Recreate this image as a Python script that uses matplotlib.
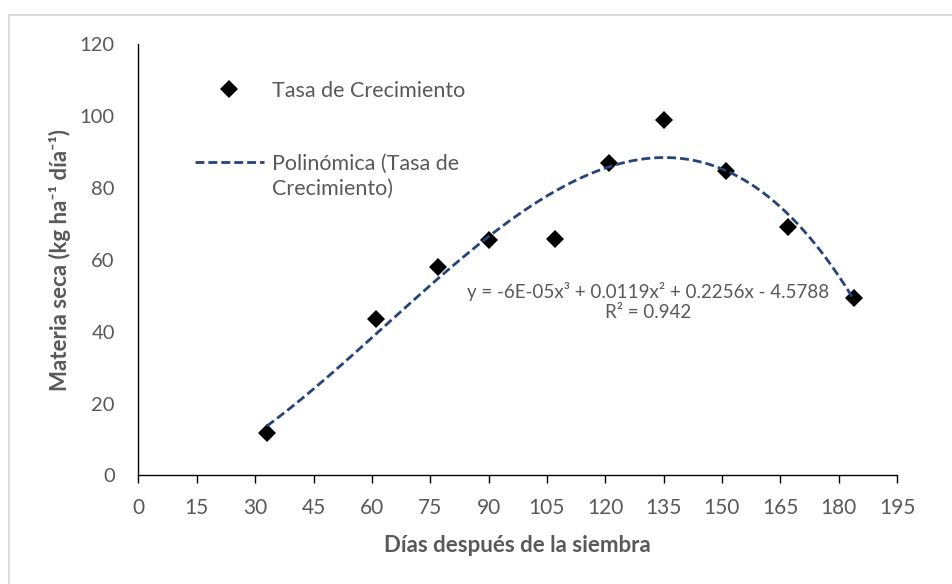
import numpy as np
import matplotlib
matplotlib.use("Agg")
import matplotlib.pyplot as plt
from matplotlib.patches import Rectangle

plt.rcParams["font.family"] = ["Lato", "DejaVu Sans"]

TEXT_GRAY = "#595959"
TREND_BLUE = "#264478"

# days after sowing and growth rate of dry matter
dias = [33, 61, 77, 90, 107, 121, 135, 151, 167, 184]
tasa = [11.8, 43.6, 57.9, 65.6, 65.8, 87.0, 98.8, 84.7, 69.2, 49.3]

x_ticks = list(range(0, 196, 15))
y_ticks = list(range(0, 121, 20))

ecuacion = "y = -6E-05x³ + 0.0119x² + 0.2256x - 4.5788\nR² = 0.942"

# third-order polynomial trendline, least squares like the spreadsheet one
coef = np.polyfit(dias, tasa, 3)
xs = np.linspace(min(dias), max(dias), 300)
ys = np.polyval(coef, xs)

fig = plt.figure(figsize=(9.53, 5.84), dpi=100)
ax = fig.add_axes([0.1453, 0.1858, 0.7959, 0.7389])

(pts,) = ax.plot(dias, tasa, "D", color="black", ms=8.7, mew=0,
                 label="Tasa de Crecimiento", zorder=3)
(trend,) = ax.plot(xs, ys, color=TREND_BLUE, lw=2, dashes=(3.2, 1.45),
                   label="Polinómica (Tasa de\nCrecimiento)", zorder=4)

ax.set_xlim(0, 195)
ax.set_ylim(0, 120)
ax.set_xticks(x_ticks)
ax.set_yticks(y_ticks)

for side in ("top", "right"):
    ax.spines[side].set_visible(False)
for side in ("left", "bottom"):
    ax.spines[side].set_color("black")
    ax.spines[side].set_linewidth(1.0)

ax.tick_params(axis="x", length=6, width=1, direction="out", pad=10,
               labelsize=15, labelcolor=TEXT_GRAY)
ax.tick_params(axis="y", length=0, pad=17, labelsize=14.5, labelcolor=TEXT_GRAY)

ax.set_xlabel("Días después de la siembra", fontsize=16, fontweight="bold",
              color=TEXT_GRAY)
ax.xaxis.set_label_coords(0.5, -0.138)
ax.set_ylabel("Materia seca (kg ha⁻¹ día⁻¹)", fontsize=16, fontweight="bold",
              color=TEXT_GRAY)
ax.yaxis.set_label_coords(-0.089, 0.5)

ax.text(131, 48.4, ecuacion, ha="center", va="center", multialignment="center",
        fontsize=13.5, color=TEXT_GRAY, linespacing=1.25)

leg = ax.legend(handles=[pts, trend], loc="upper left",
                bbox_to_anchor=(0.0745, 0.915), frameon=False, fontsize=15.5,
                labelcolor=TEXT_GRAY, handlelength=3.2, handletextpad=0.4,
                labelspacing=2.45, borderpad=0, borderaxespad=0)
for t in leg.get_texts():
    t.set_linespacing(1.35)
# keep the dashed handle level with the first line of its wrapped label
h = leg.legend_handles[1]
h.set_ydata(np.asarray(h.get_ydata()) + 10.4)

# light chart-area frame
fig.patches.append(Rectangle((9 / 953, -0.1), 1.2, 1 - 15 / 584 + 0.1,
                             transform=fig.transFigure, fill=False,
                             edgecolor="#D9D9D9", lw=1.3))

fig.savefig("out.png", dpi=100)
